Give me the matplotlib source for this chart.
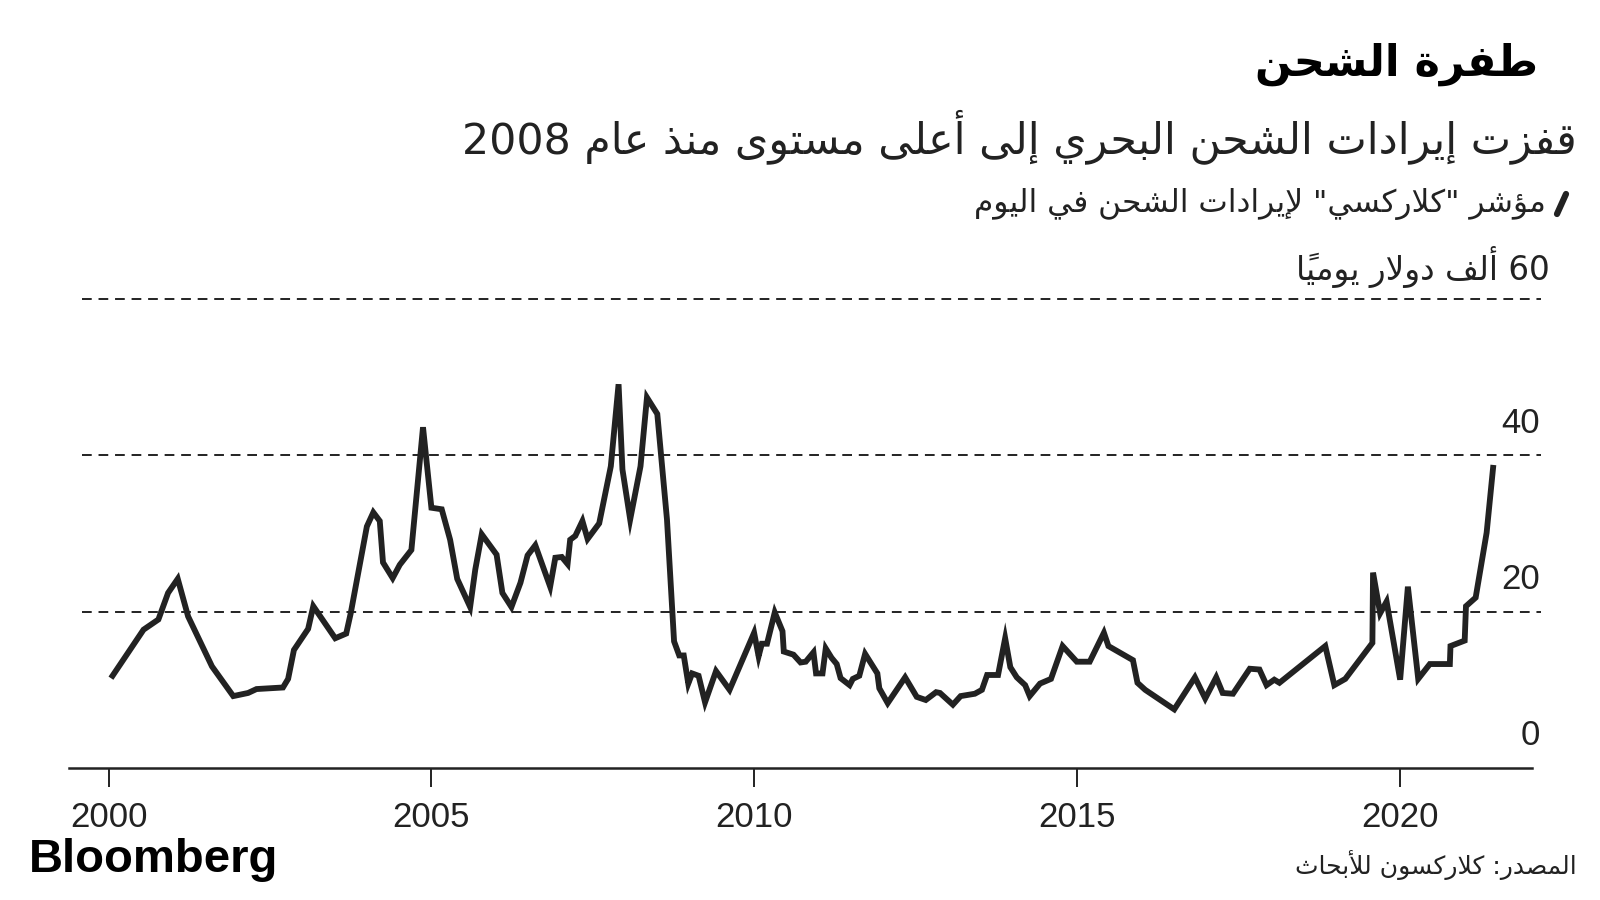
import unicodedata
import matplotlib
matplotlib.use("Agg")
import matplotlib.pyplot as plt
from matplotlib.lines import Line2D

# ClarkSea index, thousand $ per day
years = [2000.06, 2000.54, 2000.77, 2000.92, 2001.07, 2001.23, 2001.60, 2001.93, 2002.16, 2002.29,
         2002.70, 2002.78, 2002.87, 2003.09, 2003.17, 2003.51, 2003.68, 2003.75, 2004.00, 2004.10,
         2004.20, 2004.25, 2004.40, 2004.51, 2004.69, 2004.87, 2005.00, 2005.16, 2005.29, 2005.40,
         2005.60, 2005.68, 2005.78, 2006.01, 2006.10, 2006.24, 2006.38, 2006.49, 2006.61, 2006.84,
         2006.92, 2007.02, 2007.11, 2007.15, 2007.23, 2007.34, 2007.42, 2007.60, 2007.78, 2007.90,
         2007.96, 2008.08, 2008.24, 2008.34, 2008.50, 2008.65, 2008.76, 2008.84, 2008.91, 2008.98,
         2009.04, 2009.14, 2009.24, 2009.41, 2009.62, 2010.00, 2010.07, 2010.12, 2010.20, 2010.32,
         2010.44, 2010.46, 2010.61, 2010.72, 2010.80, 2010.92, 2010.96, 2011.06, 2011.11, 2011.20,
         2011.28, 2011.34, 2011.48, 2011.53, 2011.63, 2011.72, 2011.91, 2011.94, 2012.07, 2012.34,
         2012.52, 2012.66, 2012.82, 2012.88, 2013.08, 2013.20, 2013.42, 2013.53, 2013.61, 2013.78,
         2013.89, 2013.97, 2014.07, 2014.20, 2014.27, 2014.43, 2014.60, 2014.78, 2015.00, 2015.20,
         2015.42, 2015.49, 2015.87, 2015.94, 2016.06, 2016.51, 2016.83, 2016.99, 2017.16, 2017.26,
         2017.42, 2017.68, 2017.83, 2017.94, 2018.06, 2018.14, 2018.85, 2018.99, 2019.16, 2019.58,
         2019.59, 2019.70, 2019.80, 2020.01, 2020.13, 2020.29, 2020.47, 2020.78, 2020.79, 2021.01,
         2021.03, 2021.18, 2021.35, 2021.45]
rates = [11.8, 17.7, 19.0, 22.4, 24.2, 19.4, 13.0, 9.2, 9.6, 10.1,
         10.3, 11.4, 15.1, 17.8, 20.7, 16.6, 17.2, 19.8, 30.9, 32.7,
         31.6, 26.3, 24.3, 26.0, 27.9, 43.6, 33.3, 33.1, 29.2, 24.2,
         20.6, 25.4, 29.9, 27.3, 22.4, 20.6, 23.7, 27.2, 28.5, 23.2,
         26.9, 27.0, 26.1, 29.2, 29.7, 31.6, 29.3, 31.3, 38.6, 49.1,
         38.2, 31.8, 38.6, 47.4, 45.3, 31.8, 16.2, 14.4, 14.4, 10.8,
         12.1, 11.8, 8.4, 12.4, 10.0, 17.3, 14.3, 15.9, 15.9, 19.9,
         17.5, 14.9, 14.5, 13.5, 13.6, 14.8, 12.1, 12.1, 15.3, 14.1,
         13.3, 11.5, 10.6, 11.4, 11.8, 14.6, 12.1, 10.2, 8.3, 11.6,
         9.1, 8.7, 9.7, 9.6, 8.1, 9.2, 9.5, 10.0, 11.9, 11.9,
         16.6, 12.9, 11.6, 10.6, 9.2, 10.8, 11.4, 15.6, 13.6, 13.6,
         17.3, 15.6, 13.8, 10.9, 10.0, 7.5, 11.6, 8.9, 11.6, 9.6,
         9.5, 12.7, 12.6, 10.6, 11.3, 10.9, 15.6, 10.6, 11.4, 16.0,
         25.0, 19.8, 21.3, 11.3, 23.2, 11.4, 13.3, 13.3, 15.6, 16.3,
         20.7, 21.8, 30.1, 38.4]

x_ticks = [2000, 2005, 2010, 2015, 2020]
y_ticks = [0, 20, 40]
y_top = 60

title = "طفرة الشحن"
subtitle = "قفزت إيرادات الشحن البحري إلى أعلى مستوى منذ عام 2008"
legend_label = 'مؤشر "كلاركسي" لإيرادات الشحن في اليوم'
unit_label = "60 ألف دولار يومياً"
source = "المصدر: كلاركسون للأبحاث"

# --- minimal Arabic shaping (matplotlib has no complex text layout) ---
FORMS = {
    'ء': (0xFE80, 1), 'آ': (0xFE81, 2), 'أ': (0xFE83, 2), 'ؤ': (0xFE85, 2), 'إ': (0xFE87, 2),
    'ئ': (0xFE89, 4), 'ا': (0xFE8D, 2), 'ب': (0xFE8F, 4), 'ة': (0xFE93, 2), 'ت': (0xFE95, 4),
    'ث': (0xFE99, 4), 'ج': (0xFE9D, 4), 'ح': (0xFEA1, 4), 'خ': (0xFEA5, 4), 'د': (0xFEA9, 2),
    'ذ': (0xFEAB, 2), 'ر': (0xFEAD, 2), 'ز': (0xFEAF, 2), 'س': (0xFEB1, 4), 'ش': (0xFEB5, 4),
    'ص': (0xFEB9, 4), 'ض': (0xFEBD, 4), 'ط': (0xFEC1, 4), 'ظ': (0xFEC5, 4), 'ع': (0xFEC9, 4),
    'غ': (0xFECD, 4), 'ف': (0xFED1, 4), 'ق': (0xFED5, 4), 'ك': (0xFED9, 4), 'ل': (0xFEDD, 4),
    'م': (0xFEE1, 4), 'ن': (0xFEE5, 4), 'ه': (0xFEE9, 4), 'و': (0xFEED, 2), 'ى': (0xFEEF, 2),
    'ي': (0xFEF1, 4),
}
LAM_ALEF = {'ا': 0xFEFB, 'أ': 0xFEF7, 'إ': 0xFEF9, 'آ': 0xFEF5}


def nforms(key):
    if isinstance(key, tuple):
        return 2
    return FORMS.get(key, (0, 0))[1]


def ar(text):
    units = []
    i = 0
    while i < len(text):
        c = text[i]
        if unicodedata.combining(c) and units:
            units[-1][1] += c
        elif c == 'ل' and i + 1 < len(text) and text[i + 1] in LAM_ALEF:
            units.append([('LA', text[i + 1]), ''])
            i += 1
        else:
            units.append([c, ''])
        i += 1

    clusters = []
    for k, (key, marks) in enumerate(units):
        n = nforms(key)
        p = k > 0 and nforms(units[k - 1][0]) == 4 and n >= 2
        nx = k + 1 < len(units) and n == 4 and nforms(units[k + 1][0]) >= 2
        if isinstance(key, tuple):
            g = chr(LAM_ALEF[key[1]] + (1 if p else 0))
        elif n == 4:
            g = chr(FORMS[key][0] + (3 if p and nx else 1 if p else 2 if nx else 0))
        elif n == 2:
            g = chr(FORMS[key][0] + (1 if p else 0))
        elif n == 1:
            g = chr(FORMS[key][0])
        else:
            g = key
        clusters.append(g + marks)

    # visual order for a right-to-left line: keep digit/latin runs as they are
    segs = []
    for cl in clusters:
        ltr = cl.isascii() and cl.isalnum()
        if ltr and segs and segs[-1][0]:
            segs[-1][1] += cl
        else:
            segs.append([ltr, cl])
    return ''.join(s for _, s in reversed(segs))


AR_FONT = ['DejaVu Sans']
NUM_FONT = ['Liberation Sans', 'DejaVu Sans']
INK = '#222222'

fig = plt.figure(figsize=(16, 9), dpi=100)
ax = fig.add_axes([69 / 1600, 1 - 768 / 900, 1472 / 1600, (768 - 283.4) / 900])

x0 = 2000 + (69 - 108.7) / 64.54
x1 = 2000 + (1541 - 108.7) / 64.54
ax.set_xlim(x0, x1)
ax.set_ylim(0, 62)

for v in y_ticks[1:] + [y_top]:
    ax.plot([2000 + (82 - 108.7) / 64.54, x1], [v, v], color=INK, lw=1.4,
            ls=(0, (5, 3.5)), zorder=1)

ax.plot(years, rates, color=INK, lw=4.2, solid_joinstyle='miter', zorder=3)

for s in ['top', 'right', 'left']:
    ax.spines[s].set_visible(False)
ax.spines['bottom'].set_color(INK)
ax.spines['bottom'].set_linewidth(1.8)
ax.spines['bottom'].set_bounds(x0, 2000 + (1532 - 108.7) / 64.54)

ax.set_yticks([])
ax.set_xticks(x_ticks)
ax.set_xticklabels([str(t) for t in x_ticks], fontfamily=NUM_FONT, fontsize=25, color=INK)
ax.tick_params(axis='x', length=14, width=1.4, color=INK, pad=10)

xl = 2000 + (1540 - 108.7) / 64.54
for v in y_ticks:
    ax.text(xl, v + 4.1, str(v), ha='right', va='center', fontsize=25,
            family=NUM_FONT, color=INK)
ax.text(2000 + (1550 - 108.7) / 64.54, y_top + 4.1, ar(unit_label), ha='right',
        va='center', fontsize=23.5, family=AR_FONT, color=INK)

fig.text(1538 / 1600, 1 - 64 / 900, ar(title), ha='right', va='center',
         fontsize=31, fontweight='bold', family=AR_FONT, color='black')
fig.text(1577 / 1600, 1 - 137 / 900, ar(subtitle), ha='right', va='center',
         fontsize=30.8, family=AR_FONT, color=INK)
fig.text(1546 / 1600, 1 - 204 / 900, ar(legend_label), ha='right', va='center',
         fontsize=22.5, family=AR_FONT, color=INK)
fig.add_artist(Line2D([1557 / 1600, 1566 / 1600], [1 - 214 / 900, 1 - 194 / 900],
                      transform=fig.transFigure, color=INK, lw=4.5,
                      solid_capstyle='round'))

fig.text(29 / 1600, 1 - 860 / 900, "Bloomberg", ha='left', va='center',
         fontsize=34, fontweight='bold', family=NUM_FONT, color='black')
fig.text(1577 / 1600, 1 - 865 / 900, ar(source), ha='right', va='center',
         fontsize=18, family=AR_FONT, color=INK)

fig.savefig("out.png", dpi=100, facecolor='white')
